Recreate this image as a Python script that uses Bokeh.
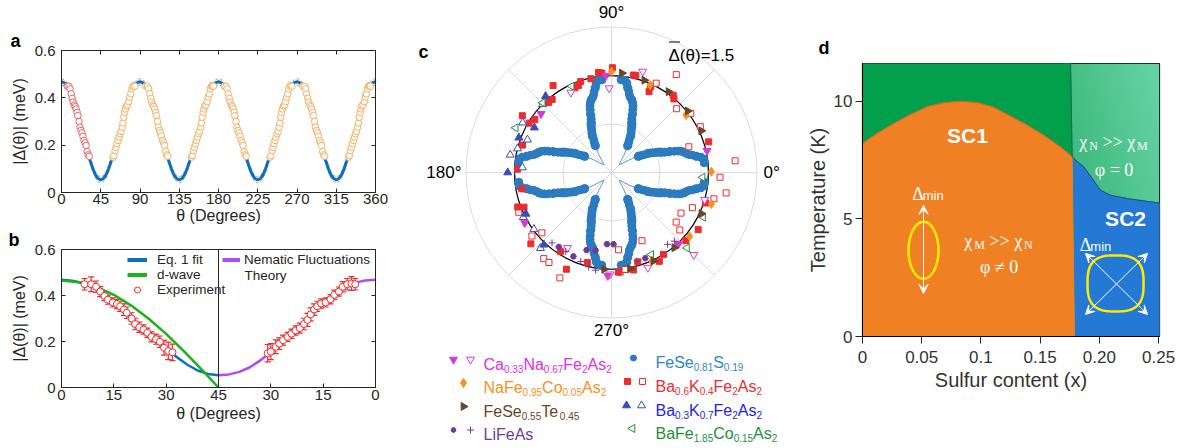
import numpy as np
from bokeh.plotting import figure
from bokeh.layouts import row, column
from bokeh.models import (ColumnDataSource, Range1d, FixedTicker, LinearAxis, Label, Span,
                          Whisker, TeeHead, Legend, LegendItem, Arrow, VeeHead, Title)
from bokeh.core.properties import value
from bokeh.embed import file_html
from bokeh.resources import INLINE

FONT = "Liberation Sans"
SERIF = "Liberation Serif"
INK = "#262626"

# ======================= DATA =======================
# panel b / a : measured gap, left half (theta 0..45) and right half (45..90 shown as 45->0)
exp_theta_L = [6.6, 8.5, 9.9, 11.1, 12.3, 13.3, 14.7, 15.9, 16.8, 17.9, 18.7, 20.1, 21.1,
               22.3, 23.5, 24.6, 25.8, 27.1, 28.2, 29.4, 30.6, 31.8]
exp_gap_L = [0.449, 0.449, 0.438, 0.417, 0.398, 0.382, 0.370, 0.363, 0.353, 0.339, 0.325,
             0.300, 0.276, 0.262, 0.252, 0.238, 0.220, 0.210, 0.199, 0.173, 0.159, 0.153]
exp_err_L = [0.025, 0.032, 0.025, 0.022, 0.02, 0.02, 0.02, 0.02, 0.022, 0.025, 0.025, 0.025,
             0.025, 0.022, 0.02, 0.02, 0.022, 0.022, 0.025, 0.032, 0.038, 0.036]
exp_theta_R = [30.9, 30.0, 28.6, 27.6, 26.5, 25.2, 24.1, 22.9, 21.7, 20.5, 19.5, 18.6, 17.6,
               16.7, 15.6, 14.3, 12.9, 11.8, 10.5, 9.4, 8.1, 6.9, 5.8]
exp_gap_R = [0.149, 0.156, 0.177, 0.191, 0.206, 0.220, 0.234, 0.248, 0.258, 0.276, 0.294,
             0.318, 0.339, 0.353, 0.365, 0.370, 0.384, 0.403, 0.417, 0.438, 0.449, 0.452, 0.449]
exp_err_R = [0.038, 0.035, 0.03, 0.025, 0.022, 0.02, 0.02, 0.02, 0.022, 0.025, 0.028, 0.028,
             0.025, 0.022, 0.02, 0.02, 0.02, 0.02, 0.02, 0.022, 0.025, 0.03, 0.025]

fit_theta = [0, 3, 6, 9, 12, 15, 18, 21, 24, 27, 30, 33, 36, 39, 42, 45]
fit_gap = [0.468, 0.464, 0.454, 0.437, 0.410, 0.375, 0.333, 0.285, 0.245, 0.208, 0.170,
           0.133, 0.100, 0.074, 0.059, 0.053]
fit_band = 0.013

dwave_theta = [0, 5, 10, 15, 20, 25, 30, 35, 40, 45]
dwave_gap = [0.465, 0.458, 0.437, 0.403, 0.356, 0.299, 0.233, 0.159, 0.081, 0.0]

theory_theta = [45, 42, 39, 36, 33, 30, 27, 24, 21, 18, 15, 12, 9, 6, 3, 0]
theory_gap = [0.053, 0.057, 0.068, 0.088, 0.118, 0.152, 0.192, 0.235, 0.280, 0.325, 0.368,
              0.405, 0.435, 0.455, 0.465, 0.468]

a_xticks = [0, 45, 90, 135, 180, 225, 270, 315, 360]
ab_yticks = [0, 0.2, 0.4, 0.6]
b_xticks = [0, 15, 30, 45, 60, 75, 90]
b_xlabels = {0: "0", 15: "15", 30: "30", 45: "45", 60: "30", 75: "15", 90: "0"}

# panel c : normalised gap of other compounds (angle deg, radius)
CaNa_fill_t = [93.3, 140.2, 210.2, 267.9, 313.2, 12.8]
CaNa_fill_r = [1.00, 0.945, 1.035, 1.065, 1.01, 1.01]
CaNa_open_t = [116.9, 91.6, 72.8, 343.7, 315.0, 290.9, 269.2, 239.7]
CaNa_open_r = [0.925, 0.87, 1.09, 1.0, 1.2, 1.05, 1.05, 0.9]
NaFeCo_t = [90.0, 66.1, 37.6, 0.5, 342.5, 320.7, 294.6]
NaFeCo_r = [1.04, 0.985, 0.97, 1.03, 1.08, 1.04, 1.0]
FeSeTe_t = [84.0, 70.4, 54.8, 38.9, 24.9, 335.4, 309.9, 295.4, 281.0, 265.7]
FeSeTe_r = [1.03, 1.01, 1.02, 1.01, 1.02, 1.02, 1.01, 1.01, 1.01, 1.0]
LiFeAs_fill_t = [271.6, 266.4, 291.5, 234.7, 245.6, 252.2, 258.4]
LiFeAs_fill_r = [0.74, 0.74, 0.95, 0.94, 0.95, 0.84, 0.82]
LiFeAs_open_t = [308.0, 312.5, 286.0, 229.8, 250.9, 256.4, 260.8, 239.9]
LiFeAs_open_r = [0.94, 0.96, 0.95, 0.95, 0.97, 1.0, 1.02, 0.94]
BaK04_fill_t = [89.5, 97.4, 95.6, 102.4, 108.7, 110.9, 113.3, 123.9, 129.1, 131.9, 145.4,
                147.5, 149.1, 162.9, 178.0, 77.3, 75.9, 65.1, 65.5, 51.4, 49.7, 17.5, 342.0,
                326.6, 317.5, 302.4, 298.3, 286.4, 282.7, 274.0, 200.2, 201.6, 190.3, 221.5,
                237.3, 245.0, 255.0]
BaK04_fill_r = [1.08, 1.04, 1.03, 0.99, 0.99, 0.96, 0.95, 1.08, 0.97, 0.97, 0.96, 1.09, 0.99,
                0.96, 0.97, 1.03, 1.03, 0.92, 0.97, 1.02, 0.995, 1.05, 1.02, 1.07, 1.04, 1.0,
                1.04, 0.96, 1.03, 1.03, 1.03, 0.97, 0.94, 1.11, 0.97, 1.10, 0.96]
BaK04_open_t = [56.5, 63.4, 44.4, 36.7, 27.3, 18.4, 5.4, 357.5, 349.9, 345.6, 336.5, 329.7,
                322.5, 319.9, 294.1, 275.2, 275.0, 278.0, 203.2, 220.9, 218.6, 231.8, 235.2,
                243.9]
BaK04_open_r = [1.21, 1.03, 0.94, 1.02, 1.03, 0.84, 1.28, 1.12, 1.20, 1.09, 0.91, 0.83, 0.84,
                0.92, 0.77, 0.80, 1.03, 1.01, 1.04, 0.95, 1.05, 1.13, 1.13, 1.21]
BaK07_fill_t = [130.8, 149.8, 159.4, 180.0, 205.8, 226.9]
BaK07_fill_r = [1.04, 0.92, 1.02, 1.07, 0.98, 1.02]
BaK07_open_t = [135.3, 150.7, 158.7, 165.7, 170.1, 176.8, 206.9, 216.1, 226.8]
BaK07_open_r = [1.0, 1.05, 0.93, 1.0, 1.06, 0.92, 1.02, 0.99, 1.07]
BaFeCo_t = [114.8, 134.6, 155.0, 357.0, 334.0, 315.0, 295.8]
BaFeCo_r = [0.98, 1.01, 1.09, 0.94, 1.05, 1.1, 0.94]

# panel d : phase diagram
dome_x = [0.0, 0.0124, 0.0265, 0.0405, 0.0546, 0.0687, 0.083, 0.097, 0.111, 0.125, 0.139,
          0.153, 0.167, 0.177]
dome_T = [8.2, 8.63, 9.05, 9.43, 9.76, 9.93, 9.99, 9.93, 9.73, 9.36, 8.98, 8.55, 8.06, 7.63]
sc2_x = [0.177, 0.1785, 0.187, 0.194, 0.201, 0.2095, 0.2236, 0.2376, 0.2508]
sc2_T = [7.63, 7.56, 7.2, 6.71, 6.21, 6.0, 5.86, 5.76, 5.67]
sc1_edge_x = 0.179       # SC1 / SC2 border at T = 0
top_edge_x = 0.1757      # green / light green border at top
d_xticks = [0, 0.05, 0.1, 0.15, 0.2, 0.25]
d_xlabels = {0: "0", 0.05: "0.05", 0.1: "0.1", 0.15: "0.15", 0.2: "0.20", 0.25: "0.25"}
d_yticks = [0, 5, 10]
T_max = 11.6
x_max = 0.2508

# ======================= COLOURS =======================
BLUE = "#0F6FBF"
GREEN = "#18B418"
PURPLE = "#B04CF5"
RED = "#EE2A2A"
ORANGE_A = "#F7AE62"
RED_A = "#EE6262"
MAG = "#D23CD2"
ORG = "#F7901E"
BRN = "#6B4526"
PUR = "#6E3A9A"
FBLU = "#2C7BBE"
CRED = "#EE2B2E"
CBLU = "#3A4DB4"
CGRN = "#1E9038"

ARIAL = {'A': 667, 'B': 667, 'C': 722, 'F': 611, 'K': 667, 'L': 556, 'N': 722, 'S': 667,
         'T': 611, 'M': 833, 'a': 556, 'e': 556, 'i': 222, 's': 500, 'o': 556, 'n': 556,
         'm': 833, '.': 278, ' ': 278}
TIMES = {'χ': 549, 'N': 722, 'M': 889, ' ': 250, '>': 564, '=': 564, '≠': 549, 'φ': 521,
         '0': 500, 'Δ': 612}


def tw(s, size, table, default):
    return sum(table.get(ch, default) for ch in s) * size / 1000.0


def composite(p, x, y, parts, color, font, table, default, align="left", style="normal"):
    widths = [tw(t, sz, table, default) for t, sz, dy in parts]
    off = -sum(widths) / 2 if align == "center" else 0.0
    xo, yo, txt, fs = [], [], [], []
    for (t, sz, dy), w in zip(parts, widths):
        lead = len(t) - len(t.lstrip(" "))
        xo.append(off + tw(" " * lead, sz, table, default)); yo.append(dy)
        txt.append(t.strip(" ")); fs.append(f"{sz}px")
        off += w
    src = ColumnDataSource(dict(x=[x] * len(parts), y=[y] * len(parts), text=txt, xo=xo,
                                yo=yo, fs=fs))
    p.text(x="x", y="y", text="text", x_offset="xo", y_offset="yo", text_font_size="fs",
           source=src, text_font=value(font), text_color=color, text_align="left",
           text_baseline="alphabetic", text_font_style=style)


def style_axis(ax, tick_size="15px", label_size="16px"):
    ax.axis_line_color = INK
    ax.major_tick_line_color = INK
    ax.minor_tick_line_color = None
    ax.major_tick_in = 4
    ax.major_tick_out = 0
    ax.major_label_text_font = FONT
    ax.major_label_text_font_size = tick_size
    ax.major_label_text_color = INK
    ax.axis_label_text_font = FONT
    ax.axis_label_text_font_size = label_size
    ax.axis_label_text_font_style = "normal"
    ax.axis_label_text_color = INK


def mirror_axis(p, loc, tk):
    ax = LinearAxis(ticker=FixedTicker(ticks=tk))
    ax.major_label_overrides = {t: "" for t in tk}
    ax.major_label_text_font_size = "0px"
    ax.major_label_standoff = 0
    ax.major_tick_in = 4
    ax.major_tick_out = 0
    ax.minor_tick_line_color = None
    ax.axis_line_color = INK
    ax.major_tick_line_color = INK
    p.add_layout(ax, loc)


def panel_title(txt, offset):
    return Title(text=txt, align="left", offset=offset, text_font=FONT, text_font_size="18px",
                 text_font_style="bold", text_color="black", standoff=0)


# ======================= PANEL a =======================
ft = np.array(fit_theta, float); fg = np.array(fit_gap, float)
a_theta, a_gap = [], []
for k in range(4):
    a_theta += list(90 * k + ft); a_gap += list(fg)
    a_theta += list(90 * k + 90 - ft[::-1]); a_gap += list(fg[::-1])
a_theta = np.array(a_theta); a_gap = np.array(a_gap)

tl = np.array(exp_theta_L); gl = np.array(exp_gap_L)
tr = np.array(exp_theta_R); gr = np.array(exp_gap_R)
orange_t = np.concatenate([90 - tr, 90 + tl, 180 - tr, 180 + tl, 270 - tr, 270 + tl, 360 - tr])
orange_g = np.concatenate([gr, gl, gr, gl, gr, gl, gr])

A_H = 227
pa = figure(width=398, height=A_H, x_range=Range1d(0, 360), y_range=Range1d(0, 0.6),
            output_backend="svg", toolbar_location=None, frame_align=False,
            min_border_left=61, min_border_right=23, min_border_top=50, min_border_bottom=35)
pa.title = panel_title("a", -51)
pa.grid.visible = False
pa.outline_line_color = INK
pa.xaxis.ticker = FixedTicker(ticks=a_xticks)
pa.yaxis.ticker = FixedTicker(ticks=ab_yticks)
pa.yaxis.major_label_overrides = {0: "0", 0.2: "0.2", 0.4: "0.4", 0.6: "0.6"}
pa.xaxis.axis_label = "θ (Degrees)"
pa.yaxis.axis_label = "|Δ(θ)| (meV)"
for ax in pa.xaxis:
    style_axis(ax); ax.major_label_standoff = 1; ax.axis_label_standoff = 0
for ax in pa.yaxis:
    style_axis(ax); ax.major_label_standoff = 6; ax.axis_label_standoff = 4
mirror_axis(pa, "above", a_xticks)
mirror_axis(pa, "right", ab_yticks)

pa.line(a_theta, a_gap + fit_band, line_color="#8a8a8a", line_width=0.8, line_dash="3 2")
pa.line(a_theta, a_gap - fit_band, line_color="#8a8a8a", line_width=0.8, line_dash="3 2")
pa.line(a_theta, a_gap, line_color=BLUE, line_width=3)
pa.scatter(orange_t, orange_g, marker="circle", size=6.5, line_color=ORANGE_A,
           fill_color="white", line_width=1)
pa.scatter(tl, gl, marker="circle", size=6.5, line_color=RED_A, fill_color="white", line_width=1)

# ======================= PANEL b =======================
pb = figure(width=398, height=448 - A_H, x_range=Range1d(0, 90), y_range=Range1d(0, 0.6),
            output_backend="svg", toolbar_location=None, frame_align=False,
            min_border_left=61, min_border_right=23, min_border_top=17, min_border_bottom=61)
pb.title = panel_title("b", -53)
pb.grid.visible = False
pb.outline_line_color = INK
pb.xaxis.ticker = FixedTicker(ticks=b_xticks)
pb.xaxis.major_label_overrides = b_xlabels
pb.yaxis.ticker = FixedTicker(ticks=ab_yticks)
pb.yaxis.major_label_overrides = {0: "0", 0.2: "0.2", 0.4: "0.4", 0.6: "0.6"}
pb.xaxis.axis_label = "θ (Degrees)"
pb.yaxis.axis_label = "|Δ(θ)| (meV)"
for ax in pb.xaxis:
    style_axis(ax); ax.major_label_standoff = 2; ax.axis_label_standoff = 2
for ax in pb.yaxis:
    style_axis(ax); ax.major_label_standoff = 6; ax.axis_label_standoff = 4
mirror_axis(pb, "right", ab_yticks)
pb.add_layout(Span(location=45, dimension="height", line_color=INK, line_width=1))

pb.line(fit_theta, fit_gap, line_color=BLUE, line_width=2.5)
pb.line(dwave_theta, dwave_gap, line_color=GREEN, line_width=2.5)
pb.line([90 - t for t in theory_theta], theory_gap, line_color=PURPLE, line_width=2.5)

srcL = ColumnDataSource(dict(x=exp_theta_L, y=exp_gap_L,
                             lo=[g - e for g, e in zip(exp_gap_L, exp_err_L)],
                             hi=[g + e for g, e in zip(exp_gap_L, exp_err_L)]))
srcR = ColumnDataSource(dict(x=[90 - t for t in exp_theta_R], y=exp_gap_R,
                             lo=[g - e for g, e in zip(exp_gap_R, exp_err_R)],
                             hi=[g + e for g, e in zip(exp_gap_R, exp_err_R)]))
for src in (srcL, srcR):
    pb.add_layout(Whisker(source=src, base="x", lower="lo", upper="hi", dimension="height",
                          line_color=RED, line_width=1.2,
                          upper_head=TeeHead(size=6, line_color=RED, line_width=1.2),
                          lower_head=TeeHead(size=6, line_color=RED, line_width=1.2)))
    pb.scatter("x", "y", source=src, marker="circle", size=7, line_color=RED,
               fill_color="white", line_width=1)

# legend-only renderers (data lies outside the visible ranges)
off_x, off_y = [-20, -10], [-1, -1]
lg_fit = pb.line(off_x, off_y, line_color=BLUE, line_width=4)
lg_dw = pb.line(off_x, off_y, line_color=GREEN, line_width=4)
lg_pt = pb.scatter(off_x[:1], off_y[:1], marker="circle", size=7, line_color=RED,
                   fill_color="white")
lg_th = pb.line(off_x, off_y, line_color=PURPLE, line_width=4)

leg1 = Legend(items=[LegendItem(label="Eq. 1 fit", renderers=[lg_fit]),
                     LegendItem(label="d-wave", renderers=[lg_dw]),
                     LegendItem(label="Experiment", renderers=[lg_pt])],
              location=(66, 90))
leg2 = Legend(items=[LegendItem(label="Nematic Fluctuations", renderers=[lg_th])],
              location=(161, 120))
for lg, gw, so in ((leg1, 20, 10), (leg2, 18, 4)):
    lg.glyph_width = gw
    lg.glyph_height = 15
    lg.label_height = 15
    lg.label_standoff = so
    lg.spacing = 0
    lg.padding = 0
    lg.margin = 0
    lg.border_line_color = None
    lg.background_fill_alpha = 0
    lg.label_text_font = FONT
    lg.label_text_font_size = "13.5px"
    lg.label_text_color = INK
    pb.add_layout(lg)
pb.add_layout(Label(x=52.45, y=0.487, text="Theory", text_font=FONT, text_font_size="13.5px",
                    text_color=INK, text_baseline="middle"))

# ======================= PANEL c =======================
CX, CY, S = 611.0, 172.0, 97.0
C_LEFT, C_RIGHT, C_TOP, C_BOTTOM = 398, 800, 0, 448


def cxy(px, py):
    return (px - CX) / S, (CY - py) / S


def pol(t, r):
    t = np.radians(np.asarray(t, float)); r = np.asarray(r, float)
    return r * np.cos(t), r * np.sin(t)


x0, y1 = cxy(C_LEFT, C_TOP)
x1, y0 = cxy(C_RIGHT, C_BOTTOM)
pc = figure(width=C_RIGHT - C_LEFT, height=C_BOTTOM - C_TOP, x_range=Range1d(x0, x1),
            y_range=Range1d(y0, y1), output_backend="svg", toolbar_location=None,
            x_axis_type=None, y_axis_type=None, min_border=0, frame_align=False)
pc.grid.visible = False
pc.outline_line_color = None

spoke_t = np.arange(0, 360, 45)
sx, sy = pol(spoke_t, 1.5)
pc.segment(x0=0, y0=0, x1=sx, y1=sy, line_color="#d2d2d2", line_width=0.8)
pc.circle(x=[0, 0, 0], y=[0, 0, 0], radius=[0.5, 1.0, 1.5], fill_color=None,
          line_color="#d2d2d2", line_width=0.8)
pc.circle(x=[0], y=[0], radius=[1.0], fill_color=None, line_color="black", line_width=1.2)

# FeSe0.81S0.19 : measured gap normalised by its maximum, shown in all four lobes
gmax = fit_gap[0]
lobe_t, lobe_r = [], []
for k in range(4):
    for sgn in (1, -1):
        lobe_t += [90 * k + sgn * t for t in exp_theta_L]; lobe_r += [g / gmax for g in exp_gap_L]
        lobe_t += [90 * k + sgn * t for t in exp_theta_R]; lobe_r += [g / gmax for g in exp_gap_R]
fx, fy = pol(a_theta, a_gap / gmax)
pc.line(fx, fy, line_color=FBLU, line_width=0.8)
lx, ly = pol(lobe_t, lobe_r)
pc.scatter(lx, ly, marker="circle", size=7.5, fill_color=FBLU, line_color=FBLU)


def pmark(t, r, marker, color, filled=True, size=7, angle=0.0):
    x, y = pol(t, r)
    pc.scatter(x, y, marker=marker, size=size, angle=angle, line_color=color,
               fill_color=color if filled else "white", line_width=1)


pmark(BaK04_open_t, BaK04_open_r, "square", CRED, False, 6)
pmark(BaK04_fill_t, BaK04_fill_r, "square", CRED, True, 6)
pmark(BaK07_open_t, BaK07_open_r, "triangle", CBLU, False, 8)
pmark(BaK07_fill_t, BaK07_fill_r, "triangle", CBLU, True, 8)
pmark(BaFeCo_t, BaFeCo_r, "triangle", CGRN, False, 8, np.pi / 2)
pmark(CaNa_open_t, CaNa_open_r, "inverted_triangle", MAG, False, 8)
pmark(CaNa_fill_t, CaNa_fill_r, "inverted_triangle", MAG, True, 8)
pmark(NaFeCo_t, NaFeCo_r, "diamond", ORG, True, 9)
pmark(FeSeTe_t, FeSeTe_r, "triangle", BRN, True, 8, -np.pi / 2)
pmark(LiFeAs_open_t, LiFeAs_open_r, "cross", PUR, False, 7)
pmark(LiFeAs_fill_t, LiFeAs_fill_r, "hex", PUR, True, 6)

for txt, (px, py), align in (("90°", (611, 12), "center"), ("180°", (461, 172), "right"),
                             ("0°", (763, 172), "left"), ("270°", (611, 330), "center")):
    X, Y = cxy(px, py)
    pc.text(x=[X], y=[Y], text=[txt], text_font=value(FONT), text_font_size="17px",
            text_color="black", text_align=align, text_baseline="middle")
X, Y = cxy(668, 55)
pc.text(x=[X], y=[Y], text=["Δ(θ)=1.5"], text_font=value(FONT), text_font_size="17px",
        text_color="black", text_align="left", text_baseline="alphabetic")
# overbar of the mean-gap symbol
ox0, oy0 = cxy(668.5, 41.5)
ox1, _ = cxy(679.5, 41.5)
pc.segment(x0=[ox0], y0=[oy0], x1=[ox1], y1=[oy0], line_color="black", line_width=1.2)
X, Y = cxy(418, 51)
pc.add_layout(Label(x=X, y=Y, text="c", text_font=FONT, text_font_size="18px",
                    text_font_style="bold", text_color="black", text_baseline="alphabetic"))

# legend of panel c (formulas with subscripts)
formulas = [
    ([("Ca", 0), ("0.33", 1), ("Na", 0), ("0.67", 1), ("Fe", 0), ("2", 1), ("As", 0), ("2", 1)], "#E02EE0"),
    ([("NaFe", 0), ("0.95", 1), ("Co", 0), ("0.05", 1), ("As", 0), ("2", 1)], ORG),
    ([("FeSe", 0), ("0.55", 1), ("Te", 0), ("0.45", 1)], BRN),
    ([("LiFeAs", 0)], PUR),
    ([("FeSe", 0), ("0.81", 1), ("S", 0), ("0.19", 1)], "#2E86C8"),
    ([("Ba", 0), ("0.6", 1), ("K", 0), ("0.4", 1), ("Fe", 0), ("2", 1), ("As", 0), ("2", 1)], CRED),
    ([("Ba", 0), ("0.3", 1), ("K", 0), ("0.7", 1), ("Fe", 0), ("2", 1), ("As", 0), ("2", 1)], "#2424DC"),
    ([("BaFe", 0), ("1.85", 1), ("Co", 0), ("0.15", 1), ("As", 0), ("2", 1)], CGRN),
]
row_l = [363.5, 387.0, 410.5, 434.0]
row_r = [362.0, 385.5, 409.5, 432.5]
formula_pos = [(483, y) for y in row_l] + [(655, y) for y in row_r]
for (parts, col), (px, py) in zip(formulas, formula_pos):
    X, Y = cxy(px, py)
    composite(pc, X, Y, [(t, 10 if s else 16, 4.5 if s else 0) for t, s in parts], col,
              FONT, ARIAL, 556)

leg_marks = [  # (page x, row index, column, marker, colour, filled, size, angle)
    (453, 0, "L", "inverted_triangle", MAG, True, 8, 0), (470, 0, "L", "inverted_triangle", MAG, False, 8, 0),
    (463, 1, "L", "diamond", ORG, True, 9, 0),
    (463, 2, "L", "triangle", BRN, True, 8, -np.pi / 2),
    (453, 3, "L", "hex", PUR, True, 5, 0), (470, 3, "L", "cross", PUR, False, 7, 0),
    (633, 0, "R", "circle", FBLU, True, 6, 0),
    (627, 1, "R", "square", CRED, True, 6, 0), (642, 1, "R", "square", CRED, False, 6, 0),
    (626, 2, "R", "triangle", CBLU, True, 8, 0), (641, 2, "R", "triangle", CBLU, False, 8, 0),
    (632, 3, "R", "triangle", CGRN, False, 8, np.pi / 2),
]
for px, ri, colm, mk, col, filled, sz, ang in leg_marks:
    py = (row_l if colm == "L" else row_r)[ri] - 4.5
    X, Y = cxy(px, py)
    pc.scatter([X], [Y], marker=mk, size=sz, angle=ang, line_color=col,
               fill_color=col if filled else "white", line_width=1)

# ======================= PANEL d =======================
def dxy(px, py):
    return (px - 862) / 296 * 0.25, (336 - py) / 23.5


pd_ = figure(width=382, height=448, x_range=Range1d(0, x_max), y_range=Range1d(0, T_max),
             output_backend="svg", toolbar_location=None, frame_align=False,
             min_border_left=62, min_border_right=23, min_border_top=63, min_border_bottom=112)
pd_.title = panel_title("d", -44)
pd_.title.standoff = 12
pd_.grid.visible = False
pd_.outline_line_color = "black"
pd_.outline_line_width = 1.2
pd_.xaxis.ticker = FixedTicker(ticks=d_xticks)
pd_.xaxis.major_label_overrides = d_xlabels
pd_.yaxis.ticker = FixedTicker(ticks=d_yticks)
pd_.xaxis.axis_label = "Sulfur content (x)"
pd_.yaxis.axis_label = "Temperature (K)"
for ax in list(pd_.xaxis) + list(pd_.yaxis):
    style_axis(ax, "17px", "20px")
    ax.major_tick_in = 0
    ax.major_tick_out = 7
    ax.axis_line_color = "black"
    ax.axis_label_text_color = "#333333"
    ax.major_label_text_color = "#333333"
for ax in pd_.xaxis:
    ax.major_label_standoff = 7; ax.axis_label_standoff = 3
for ax in pd_.yaxis:
    ax.major_label_standoff = 3; ax.axis_label_standoff = 2

# gradient background of the right (nematic) region
nx, ny = 60, 120
gx = np.linspace(0, 1, nx)[None, :]
gy = np.linspace(0, 1, ny)[:, None]
tt = np.clip(0.55 * gx + 0.45 * gy, 0, 1)
c0 = np.array([42, 172, 106]); c1 = np.array([104, 212, 166])
img = np.empty((ny, nx), dtype=np.uint32)
view = img.view(dtype=np.uint8).reshape((ny, nx, 4))
for ch in range(3):
    view[:, :, ch] = (c0[ch] + tt * (c1[ch] - c0[ch])).astype(np.uint8)
view[:, :, 3] = 255
pd_.image_rgba(image=[img], x=0.17, y=0, dw=x_max - 0.17, dh=T_max)

pd_.patch(sc2_x + [x_max, sc1_edge_x], sc2_T + [0, 0], fill_color="#2379D3",
          line_color="#2379D3")
pd_.patch([0, top_edge_x, dome_x[-1], sc1_edge_x, 0], [T_max, T_max, dome_T[-1], 0, 0],
          fill_color="#02A04C", line_color="#02A04C")
pd_.patch(dome_x + [sc1_edge_x, 0], dome_T + [0, 0], fill_color="#F08024",
          line_color="#F08024")
pd_.line(sc2_x, sc2_T, line_color="#1B4F6E", line_width=0.9)
pd_.line([top_edge_x, dome_x[-1]], [T_max, dome_T[-1]], line_color="#1D5E3B", line_width=0.9)
pd_.line(dome_x, dome_T, line_color="#D8631E", line_width=0.9)

X, Y = dxy(967, 135)
pd_.text(x=[X], y=[Y], text=["SC1"], text_font=value(FONT), text_font_size="21px",
         text_font_style="bold", text_color="white", text_align="center", text_baseline="middle")
X, Y = dxy(1125, 218)
pd_.text(x=[X], y=[Y], text=["SC2"], text_font=value(FONT), text_font_size="21px",
         text_font_style="bold", text_color="white", text_align="center", text_baseline="middle")

for (px, py), parts in (((1113, 142), [("χ", 18, 0), ("N", 12, 4), (" >> χ", 18, 0), ("M", 12, 4)]),
                        ((1113, 170), [("φ = 0", 18, 0)]),
                        ((998, 241), [("χ", 18, 0), ("M", 12, 4), (" >> χ", 18, 0), ("N", 12, 4)]),
                        ((998, 267), [("φ ≠ 0", 18, 0)])):
    X, Y = dxy(px, py)
    composite(pd_, X, Y, parts, "white", SERIF, TIMES, 520, align="center")

for (px, py) in ((911.7, 193.3), (1079.3, 245)):
    X, Y = dxy(px, py)
    composite(pd_, X, Y, [("Δ", 18, 0)], "white", SERIF, TIMES, 600)
    X, Y = dxy(px + 10.5, py + 1.5)
    composite(pd_, X, Y, [("min", 13, 0)], "white", FONT, ARIAL, 556)

# order parameter cartoons
X, Y = dxy(923, 250)
pd_.ellipse(x=[X], y=[Y], width=30, height=57, width_units="screen", height_units="screen",
            fill_alpha=0, line_color="#FFEA00", line_width=2.5)
xa, ya = dxy(923, 293); xb, yb = dxy(923, 205)
pd_.add_layout(Arrow(x_start=xa, y_start=ya, x_end=xb, y_end=yb, line_color="white",
                     line_width=1,
                     start=VeeHead(size=9, fill_color="white", line_color="white"),
                     end=VeeHead(size=9, fill_color="white", line_color="white")))
cxs, cys = dxy(1115, 283)
hx = 28 / 296 * 0.25; hy = 28 / 23.5
ang = np.linspace(0, 2 * np.pi, 121)
ca, sa = np.cos(ang), np.sin(ang)
sq_x = cxs + hx * np.sign(ca) * np.abs(ca) ** 0.7
sq_y = cys + hy * np.sign(sa) * np.abs(sa) ** 0.7
pd_.line(sq_x, sq_y, line_color="#FFEA00", line_width=2.5)
for (pa_, pb_) in (((1085, 314), (1147, 253)), ((1085, 253), (1147, 314))):
    xa, ya = dxy(*pa_); xb, yb = dxy(*pb_)
    pd_.add_layout(Arrow(x_start=xa, y_start=ya, x_end=xb, y_end=yb, line_color="white",
                         line_width=1,
                         start=VeeHead(size=9, fill_color="white", line_color="white"),
                         end=VeeHead(size=9, fill_color="white", line_color="white")))

layout = row(column(pa, pb), pc, pd_)
open("out.html", "w").write(file_html(layout, INLINE))
